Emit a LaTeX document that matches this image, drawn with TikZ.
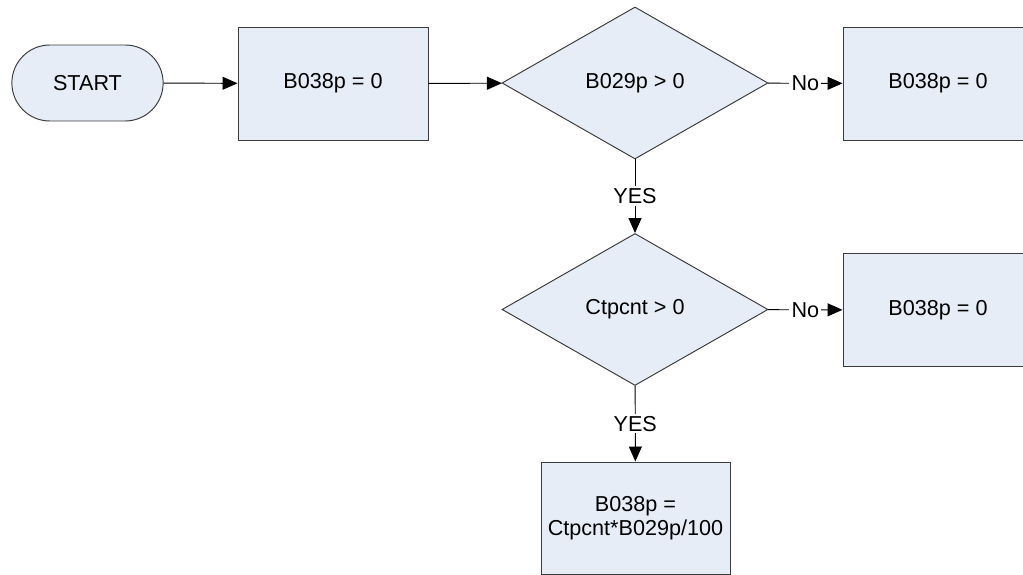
\documentclass[tikz,border=0pt]{standalone}
\usepackage{fontspec}
\setmainfont{Liberation Sans}
\usepackage{xcolor}
\usetikzlibrary{arrows.meta,positioning,shapes.geometric,shapes.misc}

\definecolor{boxfill}{RGB}{231,237,247}
\definecolor{boxedge}{RGB}{60,60,60}

\begin{document}
\begin{tikzpicture}[
  x=1cm, y=1cm,
  font=\fontsize{12.3}{13.7}\selectfont,
  term/.style={
    rounded rectangle,
    draw=boxedge,
    fill=boxfill,
    line width=0.55pt,
    minimum width=3.02cm,
    minimum height=1.52cm
  },
  proc/.style={
    rectangle,
    draw=boxedge,
    fill=boxfill,
    line width=0.55pt,
    align=center,
    minimum width=3.8cm,
    minimum height=2.26cm
  },
  dec/.style={
    diamond,
    draw=boxedge,
    fill=boxfill,
    line width=0.55pt,
    aspect=1.75,
    inner sep=0pt,
    minimum width=5.32cm,
    minimum height=3.04cm
  },
  lbl/.style={fill=white, inner sep=1.2pt},
  line/.style={-{Triangle[length=0.3cm, width=0.26cm]}, line width=0.55pt}
]

\path[use as bounding box, clip] (0,0) rectangle (20.46,-11.5);

\node[term, minimum width=3.26cm] (start) at (1.75,-1.66) {START};
\node[proc] (init) at (6.66,-1.67) {B038p = 0};

\node[dec] (chk1) at (12.7,-1.66) {B029p > 0};
\node[proc] (zero1) at (18.76,-1.67) {B038p = 0};

\node[dec] (chk2) at (12.7,-6.19) {Ctpcnt > 0};
\node[proc] (zero2) at (18.76,-6.2) {B038p = 0};

\node[proc, minimum width=3.78cm, minimum height=2.24cm] (calc) at (12.71,-10.36) {B038p =\\Ctpcnt*B029p/100};

\draw[line] (start) -- (init);
\draw[line] (init) -- (chk1);
\draw[line] (chk1) -- node[lbl] {No} (zero1);
\draw[line] (chk1) -- node[lbl] {YES} (chk2);
\draw[line] (chk2) -- node[lbl] {No} (zero2);
\draw[line] (chk2) -- node[lbl] {YES} (calc);

\end{tikzpicture}
\end{document}
